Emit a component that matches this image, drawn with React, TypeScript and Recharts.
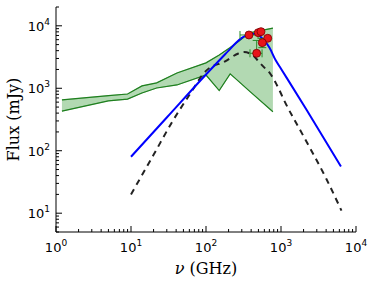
import {Area, ComposedChart, ErrorBar, Label, Line, Scatter, XAxis, YAxis} from 'recharts';

// green band (range of measurements)
const bandFreq = [1.2, 5, 9, 14, 22, 41, 100, 150, 210, 270, 380, 780];
const bandHigh = [650, 760, 810, 1090, 1220, 1760, 2550, 3400, 4480, 5600, 7700, 9200];
const bandLow = [430, 630, 670, 840, 1010, 1130, 1630, 920, 1700, 1300, 900, 420];

// blue model curve
const blueFreq = [10, 30, 100, 200, 250, 300, 350, 400, 450, 500, 600, 700, 850, 1000, 2200, 6300];
const blueFlux = [80, 340, 1660, 4000, 5300, 6400, 7100, 7400, 7400, 7100, 5800, 4500, 2800, 2050, 450, 56];

// dashed model curve
const dashFreq = [10, 20, 36, 60, 100, 180, 270, 320, 420, 500, 610, 710, 880, 1130, 2000, 4000, 6400];
const dashFlux = [20, 86, 300, 780, 1900, 2700, 3600, 3800, 3400, 2700, 2100, 1750, 1130, 600, 170, 36, 11];

// red measured points
const ptFreq = [374, 498, 541, 665, 563, 474];
const ptFlux = [7130, 7760, 8060, 6310, 5370, 3630];
const ptFreqErr: ([number, number] | undefined)[] = [[90, 120], undefined, undefined, undefined, undefined, [88, 85]];
const ptFluxErr: ([number, number] | undefined)[] = [undefined, undefined, undefined, undefined, [900, 900], [0, 2200]];

const xTicks = [1, 2, 3, 4, 5, 6, 7, 8, 9, 10, 20, 30, 40, 50, 60, 70, 80, 90, 100, 200, 300, 400, 500, 600, 700, 800, 900, 1000, 2000, 3000, 4000, 5000, 6000, 7000, 8000, 9000, 10000];
const yTicks = [5, 6, 7, 8, 9, 10, 20, 30, 40, 50, 60, 70, 80, 90, 100, 200, 300, 400, 500, 600, 700, 800, 900, 1000, 2000, 3000, 4000, 5000, 6000, 7000, 8000, 9000, 10000, 20000];

const band = bandFreq.map((f, i) => ({f, hi: bandHigh[i], lo: bandLow[i], range: [bandLow[i], bandHigh[i]]}));
const blue = blueFreq.map((f, i) => ({f, v: blueFlux[i]}));
const dash = dashFreq.map((f, i) => ({f, v: dashFlux[i]}));
const points = ptFreq.map((f, i) => ({f, v: ptFlux[i], fErr: ptFreqErr[i], vErr: ptFluxErr[i]}));

const isMajor = (v: number) => Math.abs(Math.log10(v) - Math.round(Math.log10(v))) < 1e-9;
const font = 'DejaVu Sans, sans-serif';

const BottomTick = (props: any) => {
    const {x, y, payload} = props;
    const major = isMajor(payload.value);
    return (
        <g>
            <line x1={x} x2={x} y1={y} y2={y - (major ? 6 : 3)} stroke="#000" strokeWidth={1}/>
            {major && (
                <text x={x} y={y + 20} textAnchor="middle" fontFamily={font} fontSize={13} fill="#000">
                    10<tspan dy={-6} fontSize={9}>{Math.round(Math.log10(payload.value))}</tspan>
                </text>
            )}
        </g>
    );
};

const TopTick = (props: any) => {
    const {x, y, payload} = props;
    const major = isMajor(payload.value);
    return <line x1={x} x2={x} y1={y} y2={y + (major ? 6 : 3)} stroke="#000" strokeWidth={1}/>;
};

const LeftTick = (props: any) => {
    const {x, y, payload} = props;
    const major = isMajor(payload.value);
    return (
        <g>
            <line x1={x} x2={x + (major ? 6 : 3)} y1={y} y2={y} stroke="#000" strokeWidth={1}/>
            {major && (
                <text x={x - 6} y={y + 5} textAnchor="end" fontFamily={font} fontSize={13} fill="#000">
                    10<tspan dy={-6} fontSize={9}>{Math.round(Math.log10(payload.value))}</tspan>
                </text>
            )}
        </g>
    );
};

const RightTick = (props: any) => {
    const {x, y, payload} = props;
    const major = isMajor(payload.value);
    return <line x1={x} x2={x - (major ? 6 : 3)} y1={y} y2={y} stroke="#000" strokeWidth={1}/>;
};

const XLabel = (props: any) => {
    const vb = props.viewBox;
    return (
        <text x={vb.x + vb.width / 2} y={vb.y + 42} textAnchor="middle" fontFamily="DejaVu Serif, serif" fontSize={16} fill="#000">
            <tspan fontStyle="italic">ν</tspan> (GHz)
        </text>
    );
};

const YLabel = (props: any) => {
    const vb = props.viewBox;
    const cx = 13;
    const cy = vb.y + vb.height / 2;
    return (
        <text x={cx} y={cy} textAnchor="middle" dominantBaseline="central" transform={`rotate(-90, ${cx}, ${cy})`}
              fontFamily="DejaVu Serif, serif" fontSize={16} fill="#000">
            Flux (mJy)
        </text>
    );
};

const RedDot = (props: any) => {
    const {cx, cy} = props;
    return <circle cx={cx} cy={cy} r={4} fill="#e8141a" stroke="#7a0000" strokeWidth={0.8}/>;
};

export default function App() {
    return (
        <div style={{width: 375, height: 284}}>
            <style>{'body{margin:0}'}</style>
            <ComposedChart width={375} height={284} margin={{top: 7, right: 19, bottom: 0, left: 0}}>
                <XAxis xAxisId={0} dataKey="f" type="number" scale="log" domain={[1, 10000]} allowDataOverflow
                       ticks={xTicks} interval={0} tick={<BottomTick/>} tickLine={false} tickSize={0} tickMargin={0}
                       axisLine={{stroke: '#000'}} height={52}>
                    <Label content={<XLabel/>}/>
                </XAxis>
                <XAxis xAxisId="top" orientation="top" dataKey="f" type="number" scale="log" domain={[1, 10000]}
                       allowDataOverflow ticks={xTicks} interval={0} tick={<TopTick/>} tickLine={false} tickSize={0}
                       tickMargin={0} axisLine={{stroke: '#000'}} height={0}/>
                <YAxis yAxisId={0} type="number" scale="log" domain={[5, 20000]} allowDataOverflow ticks={yTicks}
                       interval={0} tick={<LeftTick/>} tickLine={false} tickSize={0} tickMargin={0}
                       axisLine={{stroke: '#000'}} width={56}>
                    <Label content={<YLabel/>}/>
                </YAxis>
                <YAxis yAxisId="right" orientation="right" type="number" scale="log" domain={[5, 20000]}
                       allowDataOverflow ticks={yTicks} interval={0} tick={<RightTick/>} tickLine={false} tickSize={0}
                       tickMargin={0} axisLine={{stroke: '#000'}} width={0}/>

                <Area data={band} dataKey="range" type="linear" fill="#008000" fillOpacity={0.3} stroke="#008000"
                      strokeOpacity={0.4} strokeWidth={0.8} isAnimationActive={false}/>
                <Line data={band} dataKey="hi" type="linear" stroke="#1f7f1f" strokeWidth={1.2} dot={false}
                      isAnimationActive={false}/>
                <Line data={band} dataKey="lo" type="linear" stroke="#1f7f1f" strokeWidth={1.2} dot={false}
                      isAnimationActive={false}/>
                <Line data={dash} dataKey="v" type="monotone" stroke="#222" strokeWidth={2} strokeDasharray="6 5"
                      dot={false} isAnimationActive={false}/>
                <Line data={blue} dataKey="v" type="monotone" stroke="#0000ff" strokeWidth={2} dot={false}
                      isAnimationActive={false}/>
                <Scatter data={points} dataKey="v" shape={<RedDot/>} isAnimationActive={false}>
                    <ErrorBar dataKey="fErr" direction="x" stroke="#2a8a2a" width={4} strokeWidth={1}/>
                    <ErrorBar dataKey="vErr" direction="y" stroke="#2a8a2a" width={4} strokeWidth={1}/>
                </Scatter>
            </ComposedChart>
        </div>
    );
}
